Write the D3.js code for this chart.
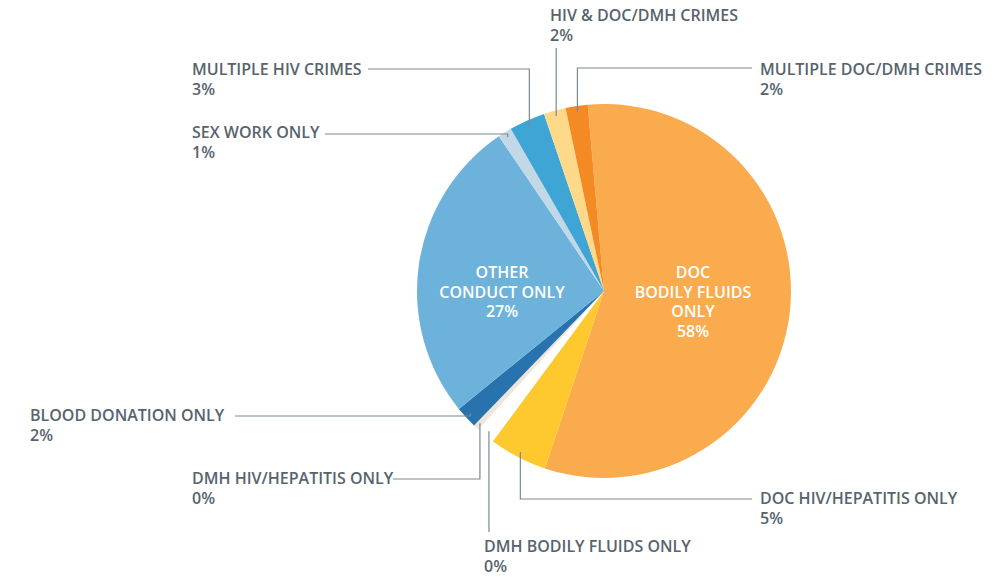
<!DOCTYPE html>
<html>
<head>
<meta charset="utf-8">
<script src="https://cdn.jsdelivr.net/npm/d3@7"></script>
<style>
  html, body { margin: 0; padding: 0; background: #fff; }
  svg { display: block; font-family: "Open Sans", sans-serif; }
  .lbl { fill: #56646d; font-size: 16px; font-weight: 600; }
  .inner { fill: #fff; font-size: 16px; font-weight: 600; }
  .leader { fill: none; stroke: #7d8990; stroke-width: 1.2; }
</style>
</head>
<body>
<svg></svg>
<script>
// slice names, shown percentages and estimated shares (clockwise from the top)
var categories = [
  "DOC BODILY FLUIDS ONLY",
  "DOC HIV/HEPATITIS ONLY",
  "DMH BODILY FLUIDS ONLY",
  "DMH HIV/HEPATITIS ONLY",
  "BLOOD DONATION ONLY",
  "OTHER CONDUCT ONLY",
  "SEX WORK ONLY",
  "MULTIPLE HIV CRIMES",
  "HIV & DOC/DMH CRIMES",
  "MULTIPLE DOC/DMH CRIMES"
];
var shares = [56.4, 5.0, 1.6, 0.5, 1.9, 26.3, 1.2, 3.1, 1.9, 1.9];
var shownPct = ["58%", "5%", "0%", "0%", "2%", "27%", "1%", "3%", "2%", "2%"];
var colors = ["#f9ab4d", "#fdc92f", "#ffffff", "#efe5da", "#2873ad",
              "#6db2da", "#c3d8e7", "#3fa5d5", "#fed98a", "#f38a24"];

var width = 997, height = 577;
var cx = 604, cy = 291, radius = 187;

var svg = d3.select("svg")
    .attr("width", width)
    .attr("height", height);

var g = svg.append("g")
    .attr("transform", "translate(" + cx + "," + cy + ")");

var data = categories.map(function(c, i) {
  return { name: c, value: shares[i], pct: shownPct[i], color: colors[i] };
});

var start = -5 * Math.PI / 180;
var pie = d3.pie()
    .sort(null)
    .value(function(d) { return d.value; })
    .startAngle(start)
    .endAngle(start + 2 * Math.PI);

var arcs = pie(data);

var arc = d3.arc().innerRadius(0).outerRadius(radius);

g.selectAll("path.slice")
    .data(arcs)
  .enter().append("path")
    .attr("class", "slice")
    .attr("d", arc)
    .attr("fill", function(d) { return d.data.color; });

// outside labels: text position and where the leader line starts
// (leader then runs across to the slice and down/up into it)
var outside = {
  "HIV & DOC/DMH CRIMES":    { x: 550, y: 21,  lx: null, ly: 48 },
  "MULTIPLE DOC/DMH CRIMES": { x: 760, y: 75,  lx: 752,  ly: 68 },
  "MULTIPLE HIV CRIMES":     { x: 192, y: 75,  lx: 368,  ly: 69 },
  "SEX WORK ONLY":           { x: 192, y: 138, lx: 325,  ly: 134 },
  "BLOOD DONATION ONLY":     { x: 30,  y: 421, lx: 235,  ly: 416 },
  "DMH HIV/HEPATITIS ONLY":  { x: 192, y: 484, lx: 393,  ly: 479 },
  "DMH BODILY FLUIDS ONLY":  { x: 484, y: 552, lx: null, ly: 532 },
  "DOC HIV/HEPATITIS ONLY":  { x: 760, y: 504, lx: 752,  ly: 499 }
};

// labels drawn inside the big slices, offsets from the centre
var inside = {
  "OTHER CONDUCT ONLY":     { dx: -102, dy: -13, lines: ["OTHER", "CONDUCT ONLY"] },
  "DOC BODILY FLUIDS ONLY": { dx: 89,   dy: -13, lines: ["DOC", "BODILY FLUIDS", "ONLY"] }
};

var lineH = 19.6;

arcs.forEach(function(d) {
  var name = d.data.name;
  var mid = (d.startAngle + d.endAngle) / 2;

  if (outside[name]) {
    var o = outside[name];
    var ax = cx + Math.sin(mid) * radius * 0.97,
        ay = cy - Math.cos(mid) * radius * 0.97;
    var sx = o.lx === null ? ax : o.lx;

    svg.append("path")
        .attr("class", "leader")
        .attr("d", "M" + sx + "," + o.ly + "H" + ax + "V" + ay);

    var t = svg.append("text")
        .attr("class", "lbl")
        .attr("x", o.x)
        .attr("y", o.y);
    t.append("tspan").attr("x", o.x).text(name);
    t.append("tspan").attr("x", o.x).attr("dy", lineH).text(d.data.pct);
  }

  if (inside[name]) {
    var p = inside[name];
    var ti = g.append("text")
        .attr("class", "inner")
        .attr("text-anchor", "middle")
        .attr("x", p.dx)
        .attr("y", p.dy);
    p.lines.concat([d.data.pct]).forEach(function(s, i) {
      ti.append("tspan")
          .attr("x", p.dx)
          .attr("dy", i === 0 ? 0 : lineH)
          .text(s);
    });
  }
});
</script>
</body>
</html>
